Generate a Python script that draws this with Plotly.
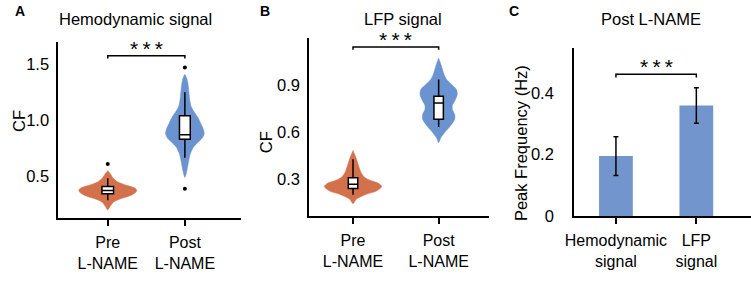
import plotly.graph_objects as go

W, H = 751, 282
FONT = "Liberation Sans, Arial, sans-serif"

# ---------------- data ----------------
groups = ["Pre<br>L-NAME", "Post<br>L-NAME"]
bar_groups = ["Hemodynamic<br>signal", "LFP<br>signal"]

# Panel A (hemodynamic CF) - violin density profiles (relative)
a_pre_y = [0.20, 0.23, 0.27, 0.30, 0.33, 0.36, 0.38, 0.40, 0.42, 0.45, 0.48, 0.51, 0.53, 0.55]
a_pre_d = [0.0, 0.08, 0.20, 0.45, 0.80, 0.98, 1.00, 0.90, 0.65, 0.35, 0.20, 0.12, 0.07, 0.0]
a_post_y = [0.49, 0.55, 0.62, 0.70, 0.76, 0.80, 0.84, 0.88, 0.92, 0.97, 1.02, 1.07, 1.12, 1.18, 1.25, 1.32, 1.37, 1.41]
a_post_d = [0.0, 0.07, 0.12, 0.19, 0.30, 0.44, 0.60, 0.67, 0.64, 0.55, 0.46, 0.33, 0.22, 0.17, 0.14, 0.11, 0.07, 0.0]
# box stats: q1, median, q3, lower whisker, upper whisker
a_pre_box = [0.345, 0.373, 0.408, 0.287, 0.483]
a_post_box = [0.83, 0.87, 1.04, 0.666, 1.25]
a_pre_out = [0.61]
a_post_out = [1.47, 0.39]

# Panel B (LFP CF)
b_pre_y = [0.14, 0.17, 0.20, 0.22, 0.25, 0.27, 0.29, 0.31, 0.34, 0.38, 0.42, 0.45, 0.48]
b_pre_d = [0.0, 0.12, 0.45, 0.80, 1.00, 0.90, 0.60, 0.40, 0.28, 0.20, 0.13, 0.07, 0.0]
b_post_y = [0.53, 0.56, 0.60, 0.64, 0.68, 0.71, 0.74, 0.77, 0.80, 0.84, 0.87, 0.90, 0.93, 0.96, 1.00, 1.03, 1.07]
b_post_d = [0.0, 0.07, 0.23, 0.42, 0.56, 0.56, 0.48, 0.48, 0.57, 0.65, 0.62, 0.46, 0.29, 0.20, 0.13, 0.08, 0.0]
b_pre_box = [0.238, 0.265, 0.306, 0.198, 0.424]
b_post_box = [0.68, 0.784, 0.826, 0.63, 0.933]

# Panel C (peak frequency, post L-NAME)
c_vals = [0.195, 0.36]
c_err = [0.063, 0.058]

ORANGE = "#D3714D"
BLUE = "#6B93CF"
BAR = "#7195CC"

fig = go.Figure()


def add_violin(xpos, ys, dens, scale, color, xa, ya):
    xs = [xpos + d * scale for d in dens] + [xpos - d * scale for d in reversed(dens)]
    yy = list(ys) + list(reversed(ys))
    fig.add_trace(go.Scatter(x=xs, y=yy, fill="toself", fillcolor=color, mode="lines",
                             line=dict(color=color, width=0.5, shape="spline", smoothing=0.8),
                             xaxis=xa, yaxis=ya, hoverinfo="skip", showlegend=False))


def add_box(xpos, st, width, xa, ya):
    q1, med, q3, lo, hi = st
    fig.add_trace(go.Box(x=[xpos], q1=[q1], median=[med], q3=[q3], lowerfence=[lo], upperfence=[hi],
                         width=width, fillcolor="white", line=dict(color="black", width=1.5),
                         whiskerwidth=0, boxpoints=False, xaxis=xa, yaxis=ya, showlegend=False,
                         hoverinfo="skip"))


def add_out(xpos, vals, xa, ya):
    fig.add_trace(go.Scatter(x=[xpos] * len(vals), y=vals, mode="markers",
                             marker=dict(color="black", size=4), xaxis=xa, yaxis=ya,
                             showlegend=False, hoverinfo="skip"))


# Panel A (violins on x/y, boxes on overlay axes so they sit on top)
add_violin(0, a_pre_y, a_pre_d, 0.374, ORANGE, "x", "y")
add_violin(1, a_post_y, a_post_d, 0.374, BLUE, "x", "y")
add_box(0, a_pre_box, 0.15, "x4", "y4")
add_box(1, a_post_box, 0.14, "x4", "y4")
add_out(0, a_pre_out, "x4", "y4")
add_out(1, a_post_out, "x4", "y4")

# Panel B
add_violin(0, b_pre_y, b_pre_d, 0.335, ORANGE, "x2", "y2")
add_violin(1, b_post_y, b_post_d, 0.335, BLUE, "x2", "y2")
add_box(0, b_pre_box, 0.11, "x5", "y5")
add_box(1, b_post_box, 0.11, "x5", "y5")

# Panel C
fig.add_trace(go.Bar(x=[0, 1], y=c_vals, width=0.42, marker=dict(color=BAR, line=dict(width=0)),
                     error_y=dict(type="data", array=c_err, color="black", thickness=1.5, width=2.5),
                     xaxis="x3", yaxis="y3", showlegend=False, hoverinfo="skip"))


def px_x(p):
    return p / W


def px_y(p):
    return 1 - p / H


tickfont = dict(family=FONT, size=16.5, color="black")
xcommon = dict(showline=True, linewidth=2, linecolor="black", ticks="outside", ticklen=6,
               tickwidth=2, tickcolor="black", showgrid=False, zeroline=False, tickvals=[0, 1],
               tickfont=dict(family=FONT, size=16, color="black"), ticklabelstandoff=3,
               fixedrange=True)
ycommon = dict(showline=True, linewidth=2, linecolor="black", ticks="outside", ticklen=4,
               tickcolor="rgba(0,0,0,0)", showgrid=False, zeroline=False, tickfont=tickfont,
               fixedrange=True)

A_XR = [-0.64, 1.73]
A_YR = [0.13, 1.70]
B_XR = [-0.51, 1.59]
B_YR = [0.063, 1.2]

fig.update_layout(
    width=W, height=H, margin=dict(l=0, r=0, t=0, b=0, pad=0), autosize=False,
    paper_bgcolor="white", plot_bgcolor="white", boxmode="overlay", showlegend=False,
    font=dict(family=FONT, color="black"),
    xaxis=dict(domain=[px_x(50), px_x(235)], range=A_XR, ticktext=groups, anchor="y", **xcommon),
    yaxis=dict(domain=[px_y(225), px_y(43)], range=A_YR, tickvals=[0.5, 1.0, 1.5],
               tickformat=".1f", anchor="x", **ycommon),
    xaxis2=dict(domain=[px_x(304), px_x(486)], range=B_XR, ticktext=groups, anchor="y2", **xcommon),
    yaxis2=dict(domain=[px_y(223), px_y(39)], range=B_YR, tickvals=[0.3, 0.6, 0.9],
                tickformat=".1f", anchor="x2", **ycommon),
    xaxis3=dict(domain=[px_x(572), px_x(751)], range=[-0.52, 1.68], ticktext=bar_groups, anchor="y3", **xcommon),
    yaxis3=dict(domain=[px_y(223), px_y(50)], range=[0, 0.546], tickvals=[0, 0.2, 0.4],
                anchor="x3", **{**ycommon, "ticklen": 15}),
    xaxis4=dict(overlaying="x", range=A_XR, visible=False, anchor="y4", fixedrange=True),
    yaxis4=dict(overlaying="y", range=A_YR, visible=False, anchor="x4", fixedrange=True),
    xaxis5=dict(overlaying="x2", range=B_XR, visible=False, anchor="y5", fixedrange=True),
    yaxis5=dict(overlaying="y2", range=B_YR, visible=False, anchor="x5", fixedrange=True),
)

# significance brackets
STARS = "*\u2009*\u2009*"
brackets = [("x", "y", 1.575, 0.025), ("x2", "y2", 1.141, 0.017), ("x3", "y3", 0.4615, 0.01)]
for xa, ya, yb, dy in brackets:
    fig.add_shape(type="path", xref=xa, yref=ya,
                  path=f"M 0 {yb - dy} L 0 {yb} L 1 {yb} L 1 {yb - dy}",
                  line=dict(color="black", width=1.5))
    fig.add_annotation(x=0.5, y=yb, xref=xa, yref=ya, text=STARS, showarrow=False,
                       yanchor="bottom", yshift=-6, font=dict(family=FONT, size=21, color="black"))

# titles
titles = [("Hemodynamic signal", 128), ("LFP signal", 399), ("Post L-NAME", 650)]
for t, cx in titles:
    fig.add_annotation(x=px_x(cx), y=px_y(20), xref="paper", yref="paper", text=t, showarrow=False,
                       xanchor="center", yanchor="middle", font=dict(family=FONT, size=16.5, color="black"))

# panel letters
for t, lx in [("A", 4), ("B", 252), ("C", 504)]:
    fig.add_annotation(x=px_x(lx), y=px_y(11), xref="paper", yref="paper", text=f"<b>{t}</b>",
                       showarrow=False, xanchor="left", yanchor="middle",
                       font=dict(family=FONT, size=14, color="black"))

# y axis titles
for t, cx, cy in [("CF", 10, 125), ("CF", 260, 147), ("Peak Frequency (Hz)", 518, 148)]:
    fig.add_annotation(x=px_x(cx), y=px_y(cy), xref="paper", yref="paper", text=t, textangle=-90,
                       showarrow=False, xanchor="center", yanchor="middle",
                       font=dict(family=FONT, size=16.5, color="black"))

fig.write_html("out.html", config={"displayModeBar": False, "responsive": False},
               post_script="document.body.style.margin='0';document.body.style.overflow='hidden';")
